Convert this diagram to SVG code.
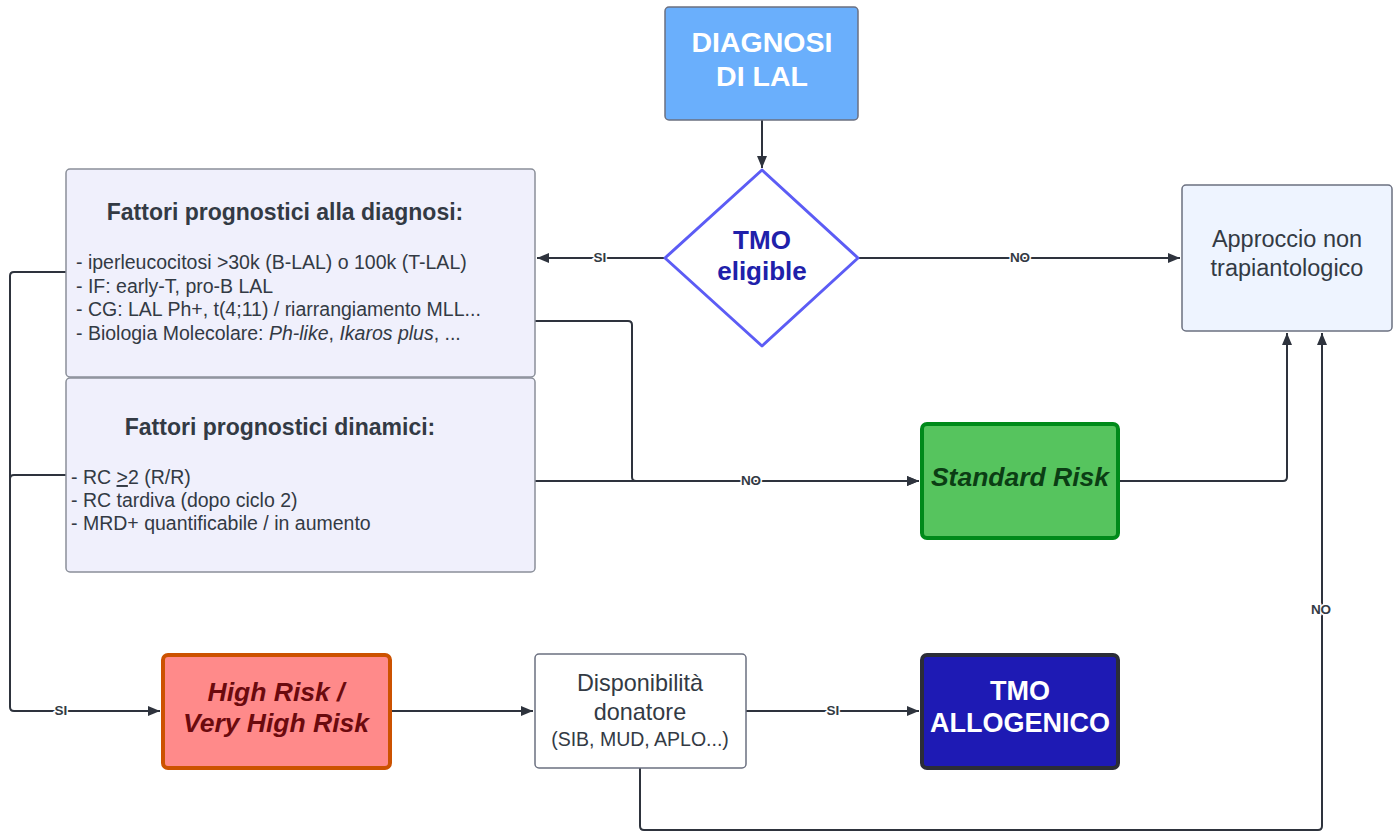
<svg xmlns="http://www.w3.org/2000/svg" width="1400" height="832" viewBox="0 0 1400 832">
<defs>
<marker id="arr" viewBox="0 0 12 10" refX="12" refY="5" markerWidth="12" markerHeight="10" markerUnits="userSpaceOnUse" orient="auto">
<path d="M0,0 L12,5 L0,10 Z" fill="#2e333d"/>
</marker>
<style>
.conn{fill:none;stroke:#2e333d;stroke-width:2;stroke-linejoin:round}
.lbl{font-family:"Liberation Sans",Arial,sans-serif;font-size:13.5px;font-weight:bold;fill:#333a44;text-anchor:middle;paint-order:stroke;stroke:#ffffff;stroke-width:3px}
.t{font-family:"Liberation Sans",Arial,sans-serif;fill:#333a44}
.b{font-weight:bold}
.c{text-anchor:middle}
.info{fill:#f0f0fc;stroke:#8a8f99;stroke-width:1.5}
</style>
</defs>
<rect width="1400" height="832" fill="#ffffff"/>

<g id="connectors">
<path class="conn" d="M762,120 V168" marker-end="url(#arr)"/>
<path class="conn" d="M665,258 H537" marker-end="url(#arr)"/>
<path class="conn" d="M858,258 H1180" marker-end="url(#arr)"/>
<path class="conn" d="M535,321 H628 Q632,321 632,325 V477 Q632,481 636,481 H919" marker-end="url(#arr)"/>
<path class="conn" d="M535,481 H919" marker-end="url(#arr)"/>
<path class="conn" d="M1118,481 H1283 Q1287,481 1287,477 V333" marker-end="url(#arr)"/>
<path class="conn" d="M66,272 H14 Q10,272 10,276 V707 Q10,711 14,711 H160" marker-end="url(#arr)"/>
<path class="conn" d="M66,475 H14 Q10,475 10,479"/>
<path class="conn" d="M390,711 H533" marker-end="url(#arr)"/>
<path class="conn" d="M746,711 H919" marker-end="url(#arr)"/>
<path class="conn" d="M640,768 V826 Q640,830 644,830 H1318 Q1322,830 1322,826 V333" marker-end="url(#arr)"/>
<text class="lbl" x="600" y="262">SI</text>
<text class="lbl" x="1020" y="262">NO</text>
<text class="lbl" x="751" y="485">NO</text>
<text class="lbl" x="61" y="715">SI</text>
<text class="lbl" x="833" y="715">SI</text>
<text class="lbl" x="1321" y="614">NO</text>
</g>

<g id="diagnosi">
<rect x="665" y="7" width="193" height="113" rx="4" fill="#6aaffc" stroke="#6b7080" stroke-width="1.5"/>
<text class="t b c" x="762" y="52" font-size="28.5" style="fill:#ffffff">DIAGNOSI</text>
<text class="t b c" x="762" y="86" font-size="28.5" style="fill:#ffffff">DI LAL</text>
</g>

<g id="tmo-eligible">
<path d="M762,170 L858,258 L762,346 L665,258 Z" fill="#ffffff" stroke="#5c5cf5" stroke-width="3" stroke-linejoin="round"/>
<text class="t b c" x="762" y="249" font-size="26" style="fill:#2020aa">TMO</text>
<text class="t b c" x="762" y="280" font-size="26" style="fill:#2020aa">eligible</text>
</g>

<g id="approccio">
<rect x="1182" y="185" width="210" height="146" rx="4" fill="#eef4ff" stroke="#6b7080" stroke-width="1.5"/>
<text class="t c" x="1287" y="247" font-size="23.5">Approccio non</text>
<text class="t c" x="1287" y="276" font-size="23.5">trapiantologico</text>
</g>

<g id="fattori-diagnosi">
<rect class="info" x="66" y="169" width="469" height="208" rx="4"/>
<text class="t b c" x="285" y="220" font-size="23">Fattori prognostici alla diagnosi:</text>
<text class="t" x="76" y="269" font-size="19.5">- iperleucocitosi &gt;30k (B-LAL) o 100k (T-LAL)</text>
<text class="t" x="76" y="292.5" font-size="19.5">- IF: early-T, pro-B LAL</text>
<text class="t" x="76" y="316" font-size="19.5">- CG: LAL Ph+, t(4;11) / riarrangiamento MLL...</text>
<text class="t" x="76" y="339.5" font-size="19.5">- Biologia Molecolare: <tspan font-style="italic">Ph-like</tspan>, <tspan font-style="italic">Ikaros plus</tspan>, ...</text>
</g>

<g id="fattori-dinamici">
<rect class="info" x="66" y="378" width="469" height="194" rx="4"/>
<text class="t b c" x="280" y="435" font-size="23">Fattori prognostici dinamici:</text>
<text class="t" x="71" y="484" font-size="19.5">- RC <tspan text-decoration="underline">&gt;</tspan>2 (R/R)</text>
<text class="t" x="71" y="507" font-size="19.5">- RC tardiva (dopo ciclo 2)</text>
<text class="t" x="71" y="530" font-size="19.5">- MRD+ quantificabile / in aumento</text>
</g>

<g id="standard-risk">
<rect x="922" y="424" width="196" height="114" rx="5" fill="#56c45e" stroke="#008a1a" stroke-width="4"/>
<text class="t b c" x="1020" y="486" font-size="26.5" font-style="italic" style="fill:#0b3d14">Standard Risk</text>
</g>

<g id="high-risk">
<rect x="163" y="655" width="227" height="113" rx="5" fill="#ff8a8a" stroke="#cc5200" stroke-width="4"/>
<text class="t b c" x="276" y="701" font-size="26.5" font-style="italic" style="fill:#6b0a0e">High Risk /</text>
<text class="t b c" x="276" y="732" font-size="26.5" font-style="italic" style="fill:#6b0a0e">Very High Risk</text>
</g>

<g id="disponibilita">
<rect x="535" y="654" width="211" height="114" rx="4" fill="#ffffff" stroke="#6b7080" stroke-width="1.5"/>
<text class="t c" x="640" y="691" font-size="23.4">Disponibilità</text>
<text class="t c" x="640" y="720" font-size="23.4">donatore</text>
<text class="t c" x="640" y="746" font-size="19.5">(SIB, MUD, APLO...)</text>
</g>

<g id="tmo-allogenico">
<rect x="922" y="655" width="196" height="113" rx="5" fill="#1e1ab4" stroke="#2b2d38" stroke-width="4"/>
<text class="t b c" x="1020" y="700" font-size="27" style="fill:#ffffff">TMO</text>
<text class="t b c" x="1020" y="732" font-size="27" style="fill:#ffffff">ALLOGENICO</text>
</g>
</svg>
